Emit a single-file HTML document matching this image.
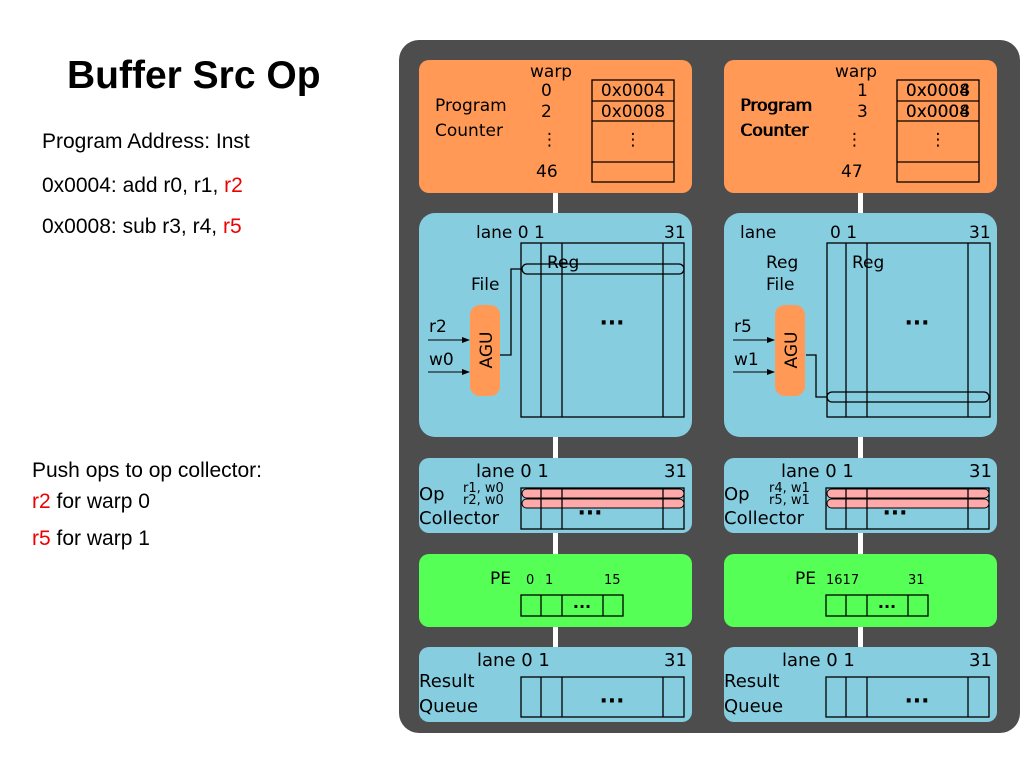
<!DOCTYPE html>
<html><head><meta charset="utf-8"><style>
body{margin:0;background:#fff;width:1024px;height:768px;overflow:hidden;font-family:"Liberation Sans",sans-serif}
</style></head><body>
<svg width="1024" height="768" xmlns="http://www.w3.org/2000/svg" font-family="DejaVu Sans, sans-serif">
<defs><marker id="a" markerWidth="8" markerHeight="8" refX="7" refY="4" orient="auto"><path d="M0,1 L8,4 L0,7 Z" fill="#000"/></marker></defs>
<text x="67" y="88" font-family="Liberation Sans" font-weight="bold" font-size="39">Buffer Src Op</text>
<g font-family="Liberation Sans" font-size="21">
<text x="42" y="148">Program Address: Inst</text>
<text x="42" y="192">0x0004: add r0, r1, <tspan fill="#e00">r2</tspan></text>
<text x="42" y="233">0x0008: sub r3, r4, <tspan fill="#e00">r5</tspan></text>
<text x="32" y="477">Push ops to op collector:</text>
<text x="32" y="508"><tspan fill="#e00">r2</tspan> for warp 0</text>
<text x="32" y="545"><tspan fill="#e00">r5</tspan> for warp 1</text>
</g>
<rect x="399" y="40" width="621" height="693" rx="20" fill="#4d4d4d"/>
<g id="col">
<rect x="553" y="190" width="5" height="470" fill="#fff"/>
<rect x="419" y="60" width="273" height="133" rx="10" fill="#ff9955"/>
<rect x="419" y="213" width="273" height="224" rx="16" fill="#87cde0"/>
<rect x="419" y="458" width="273" height="75" rx="10" fill="#87cde0"/>
<rect x="419" y="554" width="273" height="73" rx="10" fill="#55ff55"/>
<rect x="419" y="647" width="273" height="75" rx="10" fill="#87cde0"/>
<g fill="none" stroke="#000" stroke-width="1.3">
<rect x="592" y="80" width="82" height="102"/><line x1="592" y1="101" x2="674" y2="101"/><line x1="592" y1="121" x2="674" y2="121"/><line x1="592" y1="162" x2="674" y2="162"/>
<path d="M541,243V417M562,243V417M663,243V417"/>
<rect x="521" y="488" width="163" height="41"/><path d="M541,488V529M562,488V529M663,488V529"/>
<rect x="521" y="595" width="102" height="21"/><path d="M541,595V616M562,595V616M603,595V616"/>
<rect x="521" y="677" width="163" height="40"/><path d="M541,677V717M562,677V717M663,677V717"/>
</g>
<g font-size="17"><text x="435" y="111">Program</text><text x="435" y="136">Counter</text>
<text x="547" y="268">Reg</text><text x="541" y="290" text-anchor="middle"></text>
<text x="418" y="477" font-size="18"></text>
<text x="419" y="500" font-size="18">Op</text><text x="419" y="524" font-size="18">Collector</text>
<text x="419" y="687" font-size="18">Result</text><text x="419" y="712" font-size="18">Queue</text></g>
<g font-size="22" font-weight="bold" text-anchor="middle"><text x="612" y="330">···</text><text x="590" y="520">···</text><text x="612" y="708">···</text><text x="582" y="612" font-size="16">···</text></g>
<g font-size="17" text-anchor="middle"><text x="633" y="96">0x0004</text><text x="633" y="117">0x0008</text><text x="633" y="145">⋮</text></g>
<rect x="522" y="489" width="162" height="9" rx="4.5" fill="#ffaaaa" stroke="#000"/>
<rect x="522" y="499" width="162" height="9" rx="4.5" fill="#ffaaaa" stroke="#000"/>
<g stroke="#000" stroke-width="1.3"><path d="M541,488V508M562,488V508M663,488V508"/></g>
<text x="476" y="477" font-size="18">lane 0 1</text><text x="664" y="477" font-size="18">31</text>
<text x="477" y="666" font-size="18">lane 0 1</text><text x="664" y="666" font-size="18">31</text>
<rect x="470" y="305" width="30" height="91" rx="10" fill="#ff9955"/>
<text transform="translate(492,350) rotate(-90)" font-size="17" text-anchor="middle">AGU</text>
<line x1="428" y1="340" x2="469" y2="340" stroke="#000" marker-end="url(#a)"/>
<line x1="428" y1="372" x2="469" y2="372" stroke="#000" marker-end="url(#a)"/>
</g>
<use href="#col" x="305"/>
<!-- left specifics -->
<g font-size="17">
<text x="530" y="77">warp</text><text x="541" y="96">0</text><text x="541" y="117">2</text><text x="541" y="145">⋮</text><text x="536" y="177">46</text>
<text x="476" y="238">lane 0 1</text><text x="664" y="238">31</text>
<text x="471" y="290">File</text>
<text x="429" y="332">r2</text><text x="429" y="365">w0</text>
<text x="490" y="584">PE</text>
</g>
<g fill="none" stroke="#000" stroke-width="1.3"><rect x="521" y="243" width="163" height="174"/>
<rect x="522" y="264" width="162" height="10" rx="5"/><path d="M500,355H511V269H522"/></g>
<g font-size="13"><text x="463" y="492">r1, w0</text><text x="463" y="504">r2, w0</text>
<text x="526" y="584">0</text><text x="545" y="584">1</text><text x="604" y="584">15</text></g>
<!-- right specifics -->
<g font-size="17">
<text x="835" y="77">warp</text><text x="857" y="96">1</text><text x="857" y="117">3</text><text x="846" y="145">⋮</text><text x="841" y="177">47</text>
<text x="741" y="111">Program</text><text x="741" y="136">Counter</text>
<text x="740" y="238">lane</text><text x="830" y="238">0 1</text><text x="969" y="238">31</text>
<text x="766" y="268">Reg</text><text x="766" y="290">File</text>
<text x="734" y="332">r5</text><text x="734" y="365">w1</text>
<text x="795" y="584">PE</text>
</g>
<g font-size="17" text-anchor="middle"><text x="938" y="96">0x0008</text><text x="938" y="117">0x0004</text></g>
<g fill="none" stroke="#000" stroke-width="1.3"><rect x="827" y="243" width="163" height="174"/>
<rect x="827" y="392" width="162" height="10" rx="5"/><path d="M806,355H816V397H827"/></g>
<g font-size="13"><text x="769" y="492">r4, w1</text><text x="769" y="504">r5, w1</text>
<text x="826" y="584">1617</text><text x="908" y="584">31</text></g>
</svg>
</body></html>
